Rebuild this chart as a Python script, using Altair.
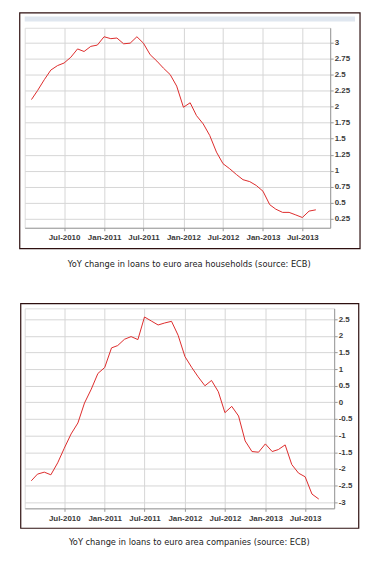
import altair as alt
import pandas as pd

# Monthly observations, Feb-2010 .. Sep-2013
months = pd.date_range("2010-02-01", "2013-09-01", freq="MS").strftime("%Y-%m-%d").tolist()

households = [2.11, 2.25, 2.42, 2.57, 2.64, 2.68, 2.77, 2.90, 2.86, 2.94, 2.96,
              3.09, 3.06, 3.07, 2.98, 2.99, 3.09, 2.99, 2.81, 2.71, 2.60, 2.50, 2.32,
              1.99, 2.06, 1.86, 1.73, 1.55, 1.29, 1.11, 1.03, 0.94, 0.86, 0.83, 0.77,
              0.68, 0.47, 0.40, 0.35, 0.35, 0.31, 0.27, 0.37, 0.39]

companies = [-2.36, -2.16, -2.10, -2.18, -1.82, -1.38, -0.95, -0.62, -0.02, 0.40, 0.87,
             1.05, 1.64, 1.71, 1.90, 1.98, 1.89, 2.57, 2.45, 2.33, 2.39, 2.44, 2.02,
             1.38, 1.05, 0.77, 0.50, 0.66, 0.32, -0.31, -0.12, -0.41, -1.16, -1.48, -1.50,
             -1.25, -1.48, -1.42, -1.28, -1.87, -2.13, -2.24, -2.76, -2.91]

x_tick_dates = [(2010, 7), (2011, 1), (2011, 7), (2012, 1), (2012, 7), (2013, 1), (2013, 7)]
y_ticks_households = [0.25, 0.5, 0.75, 1, 1.25, 1.5, 1.75, 2, 2.25, 2.5, 2.75, 3]
y_ticks_companies = [-3, -2.5, -2, -1.5, -1, -0.5, 0, 0.5, 1, 1.5, 2, 2.5]

caption_households = "YoY change in loans to euro area households (source: ECB)"
caption_companies = "YoY change in loans to euro area companies (source: ECB)"

LINE = "#dd2b2b"
BOX = "#2e1010"
LABEL_FONT = "Liberation Sans"
one = pd.DataFrame({"k": [0]})


def panel(values, caption, ydomain, yticks, xend, width, height, box, band, cap):
    df = pd.DataFrame({"date": months, "value": values})
    xaxis = alt.Axis(
        values=[alt.DateTime(year=y, month=m, date=1, utc=True) for y, m in x_tick_dates],
        labelExpr="utcFormat(datum.value, '%b-%Y')",
        title=None, tickSize=3, labelPadding=3,
        labelFont=LABEL_FONT, labelFontSize=8, labelFontWeight="bold",
        labelColor="#3a3a3a", domainColor="#999999", tickColor="#999999",
        gridColor="#d6d6d6", labelFlush=False,
    )
    yaxis = alt.Axis(
        orient="right", values=yticks,
        labelExpr="(datum.value < 0 ? '-' : '') + format(abs(datum.value), '~g')",
        title=None, tickSize=3, labelPadding=1,
        labelFont=LABEL_FONT, labelFontSize=8, labelFontWeight="bold",
        labelColor="#3a3a3a", domainColor="#999999", tickColor="#999999",
        gridColor="#d6d6d6", labelFlush=False,
    )
    line = alt.Chart(df).mark_line(color=LINE, strokeWidth=1).encode(
        x=alt.X("date:T", axis=xaxis,
                scale=alt.Scale(type="utc",
                                domain=[alt.DateTime(year=2010, month=1, date=xend[0], utc=True),
                                        alt.DateTime(year=2013, month=11, date=xend[1], utc=True)])),
        y=alt.Y("value:Q", axis=yaxis,
                scale=alt.Scale(domain=ydomain, nice=False, zero=False)),
    )
    layers = []
    frame = alt.Chart(one).mark_rect(filled=False, stroke=BOX, strokeWidth=1.2).encode(
        x=alt.value(box[0]), x2=alt.value(box[1]), y=alt.value(box[2]), y2=alt.value(box[3])
    )
    layers.append(frame)
    if band is not None:
        layers.append(alt.Chart(one).mark_rect(color="#e0e7f0").encode(
            x=alt.value(band[0]), x2=alt.value(band[1]), y=alt.value(band[2]), y2=alt.value(band[3])
        ))
    text = alt.Chart(one).mark_text(
        text=caption, font="DejaVu Sans", fontSize=8.3, color="#222222",
        align="center", baseline="middle"
    ).encode(x=alt.value(cap[0]), y=alt.value(cap[1]))
    layers.append(text)
    layers.append(line)
    return alt.layer(*layers).properties(width=width, height=height)


top = panel(households, caption_households, [0.11, 3.23], y_ticks_households, (1, 6),
            307, 201, (-5, 337, -15, 222), (0, 332, -11.3, -6.3), (165.4, 238))
bottom = panel(companies, caption_companies, [-3.19, 2.83], y_ticks_companies, (2, 10),
               311, 201, (-4, 335.7, -4.7, 221), None, (165.4, 236.3))

chart = alt.vconcat(top, bottom, spacing=34).properties(
    padding={"left": 9.8, "top": 1.5, "right": 4, "bottom": 4}
).configure_view(stroke="#cccccc", strokeWidth=1).configure(background="white")

chart.save("out.html", embed_options={"renderer": "svg", "actions": False})
